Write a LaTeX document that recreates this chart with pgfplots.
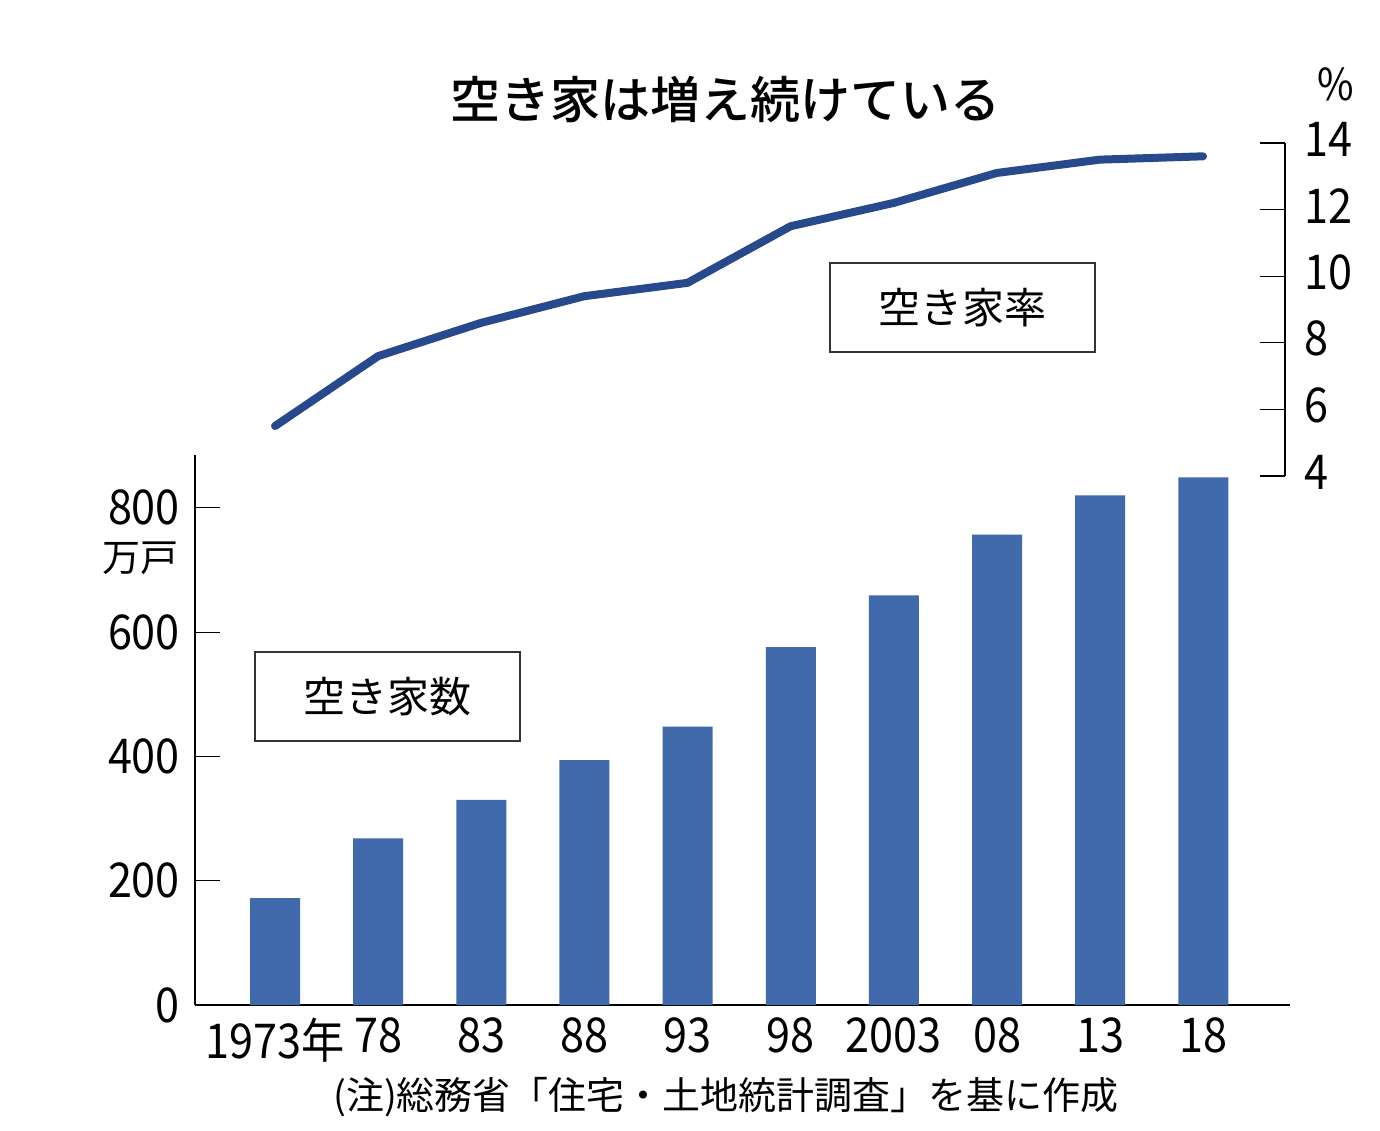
\documentclass[border=0pt]{standalone}
\usepackage{fontspec}
\setmainfont{Noto Sans CJK JP}
\newfontfamily\numfont[FakeStretch=0.9]{Noto Sans CJK JP}
\newfontfamily\titlefont{Noto Sans CJK JP Medium}
\usepackage{pgfplots}
\pgfplotsset{compat=1.18}
\definecolor{barblue}{RGB}{65,106,173}
\definecolor{lineblue}{RGB}{40,74,140}
\pgfplotstableread{
x v
0 172
1 268
2 330
3 394
4 448
5 576
6 659
7 757
8 820
9 849
}\bars
\pgfplotstableread{
x r
0 5.5
1 7.6
2 8.6
3 9.4
4 9.8
5 11.5
6 12.2
7 13.1
8 13.5
9 13.6
}\rate
\begin{document}
\begin{tikzpicture}[x=1pt,y=1pt]
\path[use as bounding box, fill=white] (0,0) rectangle (690,565);
\begin{axis}[at={(97.5pt,62.5pt)}, anchor=south west, scale only axis,
  width=547.5pt, height=275pt,
  xmin=-0.776, xmax=9.84, ymin=0, ymax=885,
  axis x line*=bottom, axis y line*=left,
  axis line style={line width=0.6pt, black},
  xtick={0,...,9},
  xticklabels={1973年,78,83,88,93,98,2003,08,13,18},
  x tick style={draw=none},
  ytick={0,200,400,600,800},
  y tick style={line width=0.6pt, black},
  tick align=inside, major tick length=12.5pt,
  /pgf/number format/assume math mode=true,
  ticklabel style={font=\numfont\fontsize{24}{24}\selectfont},
  yticklabel style={xshift=-4pt},
  xticklabel style={yshift=-3pt},
]
\addplot[ybar, bar width=25pt, fill=barblue, draw=none] table[x=x,y=v]{\bars};
\end{axis}
\begin{axis}[at={(97.5pt,327pt)}, anchor=south west, scale only axis,
  width=545pt, height=166.5pt,
  xmin=-0.776, xmax=9.795, ymin=4, ymax=14,
  axis x line=none, axis y line*=right,
  axis line style={line width=0.6pt, black},
  ytick={4,6,...,14},
  y tick style={line width=0.6pt, black},
  tick align=inside, major tick length=12.5pt,
  /pgf/number format/assume math mode=true,
  ticklabel style={font=\numfont\fontsize{24}{24}\selectfont},
  yticklabel style={xshift=6pt, yshift=2pt},
  clip=false,
]
\addplot[lineblue, line width=4pt, line cap=round, line join=round] table[x=x,y=r]{\rate};
\end{axis}
\node[font=\titlefont\fontsize{25}{25}\selectfont] at (362.5,515) {空き家は増え続けている};
\node[font=\fontsize{19}{19}\selectfont] at (363,16.5) {(注)総務省「住宅・土地統計調査」を基に作成};
\node[font=\numfont\fontsize{22}{22}\selectfont] at (668,523) {\%};
\node[font=\fontsize{19}{19}\selectfont] at (70,286) {万戸};
\draw[line width=0.75pt, black!80] (415,389) rectangle (547.5,433.5);
\node[font=\fontsize{21}{21}\selectfont] at (481.25,411.25) {空き家率};
\draw[line width=0.75pt, black!80] (127.5,194.5) rectangle (260,239);
\node[font=\fontsize{21}{21}\selectfont] at (193.75,216.75) {空き家数};
\end{tikzpicture}
\end{document}
